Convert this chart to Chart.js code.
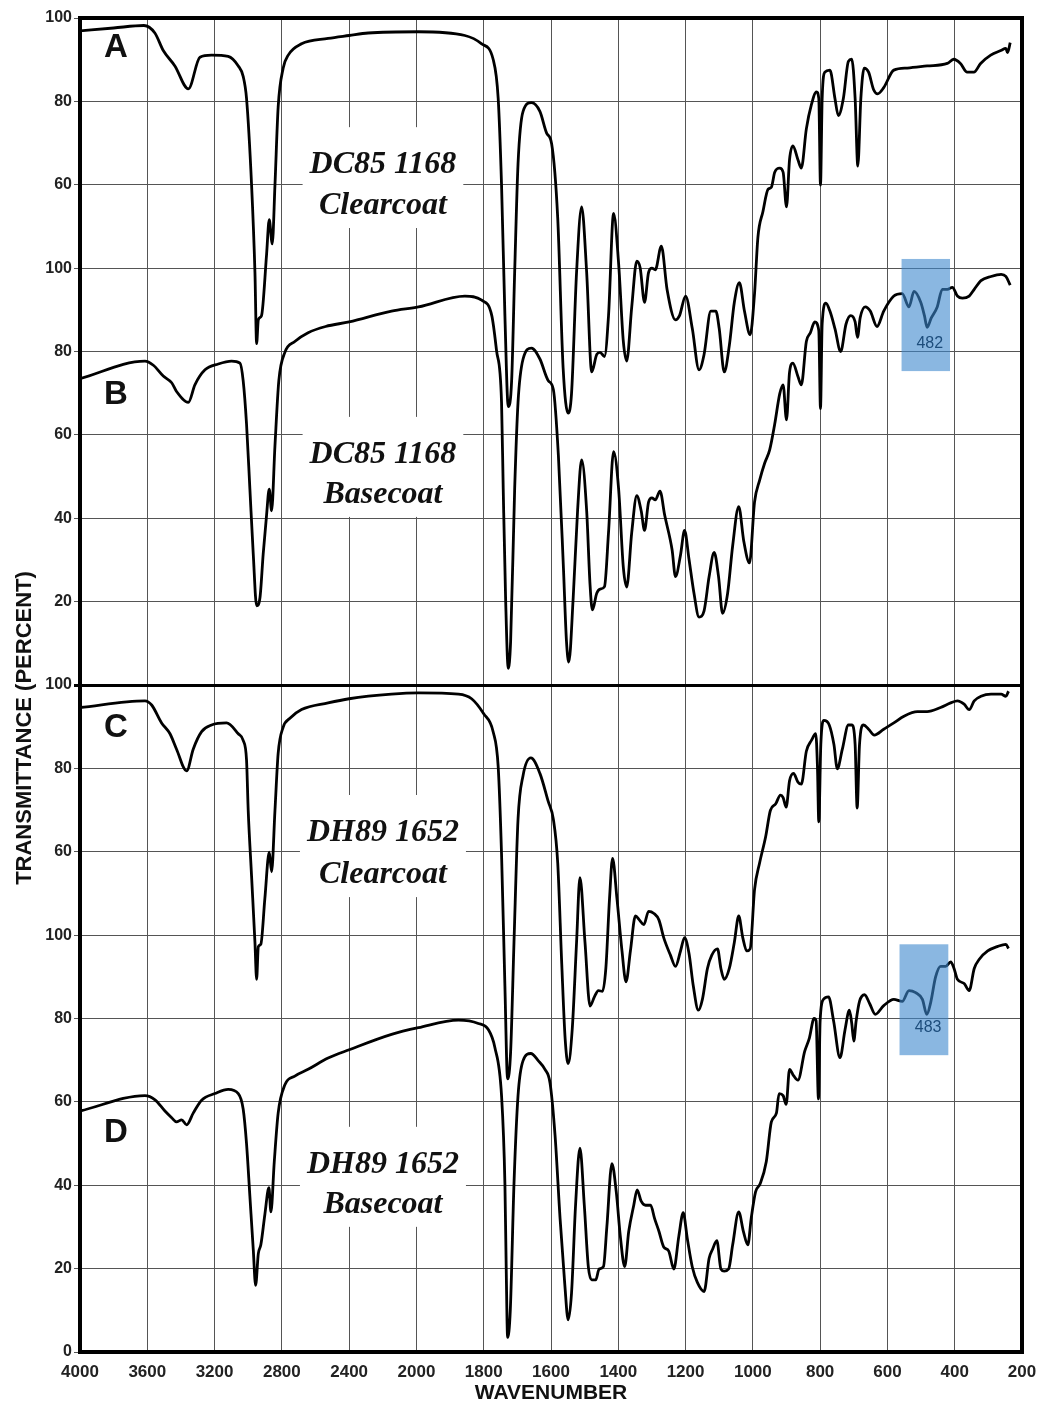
<!DOCTYPE html>
<html>
<head>
<meta charset="utf-8">
<script src="https://cdn.jsdelivr.net/npm/chart.js@4.4.1/dist/chart.umd.min.js"></script>
<style>
  html, body { margin: 0; padding: 0; background: #fff; }
  canvas { display: block; }
</style>
</head>
<body>
<canvas id="spectra" width="1039" height="1404"></canvas>
<script>
// IR spectra of four paint layers, [wavenumber, % transmittance]
const specA = [
  [4000, 96.9], [3800, 97.6], [3620, 98.2], [3555, 96.4], [3505, 92.2], [3436, 88.5], [3356, 83.0], [3287, 90.6], [3218, 91.1], [3119, 90.8],
  [3059, 88.5], [3030, 86.0], [3010, 80.7], [2980, 59.9], [2960, 39.0], [2950, 21.9], [2940, 27.6], [2921, 28.6], [2891, 43.2], [2875, 51.6],
  [2857, 45.8], [2841, 59.9], [2822, 78.6], [2792, 88.0], [2762, 91.1], [2683, 93.8], [2525, 95.1], [2400, 95.8], [2287, 96.4], [1994, 96.7],
  [1856, 95.8], [1806, 93.8], [1772, 90.1], [1757, 80.7], [1747, 59.9], [1737, 28.6], [1727, 6.8], [1717, 13.0], [1708, 39.0], [1698, 65.0],
  [1683, 77.6], [1658, 79.7], [1633, 77.6], [1613, 72.4], [1598, 69.8], [1580, 52.0], [1564, 16.1], [1549, 5.2], [1539, 9.9], [1524, 39.0],
  [1509, 54.7], [1494, 39.0], [1479, 15.1], [1464, 19.3], [1454, 19.8], [1441, 18.8], [1429, 28.6], [1414, 53.1], [1399, 41.1], [1385, 22.4],
  [1375, 17.7], [1360, 30.7], [1345, 41.7], [1335, 40.1], [1322, 31.8], [1310, 39.0], [1300, 40.0], [1290, 39.6], [1272, 45.3], [1255, 34.9],
  [1230, 27.6], [1218, 28.6], [1200, 33.3], [1180, 25.5], [1160, 15.6], [1145, 19.3], [1125, 29.7], [1110, 29.7], [1100, 25.5], [1085, 15.1],
  [1070, 21.4], [1055, 31.8], [1040, 36.5], [1025, 29.7], [1008, 24.0], [995, 33.9], [985, 47.4], [970, 53.6], [955, 58.9], [945, 59.4],
  [935, 63.0], [920, 64.0], [910, 63.0], [900, 54.7], [891, 66.0], [881, 69.3], [866, 66.0], [856, 64.0], [841, 73.4], [826, 79.2],
  [811, 82.3], [804, 80.7], [799, 59.9], [794, 80.7], [786, 87.0], [771, 87.5], [756, 80.7], [746, 76.6], [731, 80.7], [716, 89.6],
  [706, 90.1], [696, 80.7], [688, 64.5], [679, 80.7], [669, 88.0], [656, 87.0], [641, 82.8], [629, 81.8], [611, 83.3], [581, 87.5],
  [541, 88.0], [482, 88.5], [422, 89.1], [403, 90.1], [383, 89.1], [363, 87.0], [343, 87.0], [323, 89.1], [293, 91.1], [263, 92.2],
  [248, 92.7], [243, 91.7], [235, 94.1]
];

const specB = [
  [4000, 73.5], [3614, 77.7], [3564, 76.7], [3505, 74.1], [3455, 72.5], [3426, 70.4], [3356, 67.8], [3317, 72.0], [3257, 75.6], [3178, 77.0],
  [3099, 77.7], [3049, 77.2], [3030, 73.0], [3010, 62.6], [2990, 47.0], [2970, 31.4], [2950, 19.0], [2930, 21.0], [2911, 31.4], [2891, 40.7],
  [2875, 47.0], [2861, 41.8], [2841, 57.4], [2818, 73.0], [2782, 79.8], [2723, 82.4], [2644, 84.5], [2540, 86.0], [2400, 87.1], [2148, 89.7],
  [1994, 90.7], [1856, 93.3], [1806, 92.3], [1776, 88.6], [1762, 80.3], [1747, 67.8], [1742, 47.0], [1735, 21.0], [1727, 4.0], [1720, 10.5],
  [1708, 47.0], [1698, 67.8], [1683, 78.2], [1658, 80.8], [1633, 78.2], [1608, 73.0], [1593, 70.9], [1578, 55.0], [1563, 28.0], [1554, 10.5],
  [1547, 5.5], [1534, 21.0], [1521, 41.8], [1509, 54.0], [1494, 41.8], [1484, 24.1], [1477, 18.0], [1464, 22.0], [1454, 23.0], [1441, 23.6],
  [1429, 36.6], [1414, 56.0], [1399, 47.0], [1385, 28.2], [1375, 23.5], [1360, 36.6], [1345, 45.4], [1332, 41.8], [1322, 37.1], [1310, 43.9],
  [1300, 44.9], [1290, 44.4], [1276, 46.5], [1262, 40.7], [1240, 32.4], [1230, 26.0], [1215, 31.2], [1203, 37.1], [1190, 30.3], [1175, 22.0],
  [1160, 16.3], [1145, 17.8], [1130, 26.0], [1115, 31.8], [1102, 26.0], [1090, 17.2], [1075, 22.0], [1060, 33.4], [1042, 42.8], [1027, 34.5],
  [1010, 29.3], [995, 43.9], [980, 49.1], [965, 53.2], [950, 56.4], [935, 62.6], [920, 69.9], [910, 72.0], [900, 63.6], [891, 75.0],
  [881, 77.2], [866, 74.0], [856, 72.0], [841, 82.4], [829, 84.5], [816, 87.1], [804, 85.0], [799, 66.3], [794, 86.6], [783, 91.6],
  [771, 89.7], [756, 85.5], [739, 80.0], [723, 86.6], [709, 88.6], [696, 87.1], [689, 83.4], [681, 88.1], [666, 90.7], [651, 89.7],
  [631, 86.0], [611, 89.7], [581, 93.3], [556, 93.9], [536, 90.7], [521, 94.4], [501, 91.8], [490, 88.6], [482, 85.8], [470, 88.0],
  [452, 90.7], [437, 94.9], [422, 94.9], [407, 95.4], [392, 93.3], [377, 92.8], [357, 93.3], [342, 94.9], [322, 97.0], [292, 98.0],
  [262, 98.5], [248, 98.0], [235, 95.9]
];

const specC = [
  [4000, 94.6], [3614, 96.2], [3574, 95.2], [3515, 90.9], [3465, 88.3], [3426, 84.6], [3366, 79.4], [3327, 84.6], [3277, 88.8], [3218, 90.4],
  [3129, 90.9], [3059, 88.3], [3030, 86.7], [3010, 82.0], [3000, 69.9], [2980, 54.1], [2960, 38.3], [2950, 29.4], [2940, 37.2], [2925, 37.8],
  [2901, 48.8], [2875, 59.9], [2861, 55.2], [2841, 69.9], [2822, 83.6], [2792, 89.9], [2752, 92.0], [2683, 94.1], [2525, 95.7], [2400, 96.7],
  [2148, 97.8], [1994, 98.1], [1875, 97.8], [1836, 96.7], [1800, 93.1], [1772, 88.8], [1757, 80.4], [1747, 59.4], [1737, 27.8], [1729, 5.5],
  [1720, 12.0], [1710, 38.3], [1698, 67.8], [1683, 78.3], [1660, 82.5], [1633, 78.8], [1608, 72.0], [1593, 67.8], [1580, 57.3], [1568, 33.0],
  [1558, 15.2], [1549, 9.2], [1537, 17.3], [1524, 38.3], [1514, 53.8], [1499, 38.3], [1484, 23.0], [1471, 25.2], [1459, 26.7], [1447, 26.5],
  [1437, 32.0], [1426, 48.8], [1417, 58.4], [1404, 48.8], [1389, 36.2], [1377, 28.8], [1364, 36.2], [1349, 44.6], [1337, 43.6], [1324, 42.5],
  [1310, 45.7], [1294, 45.2], [1279, 43.6], [1265, 39.4], [1245, 35.2], [1230, 32.5], [1215, 36.2], [1203, 39.4], [1190, 35.7], [1177, 27.8],
  [1162, 22.0], [1150, 24.6], [1135, 32.0], [1122, 35.2], [1105, 36.7], [1095, 32.0], [1085, 29.4], [1070, 32.0], [1055, 38.3], [1042, 44.6],
  [1030, 39.4], [1018, 36.2], [1008, 36.7], [995, 50.9], [980, 57.3], [962, 63.6], [948, 69.9], [932, 71.5], [918, 73.6], [910, 73.0],
  [901, 70.7], [891, 77.0], [879, 78.8], [866, 76.7], [856, 76.2], [841, 84.1], [826, 86.7], [813, 88.3], [808, 80.4], [804, 67.2],
  [798, 85.7], [789, 91.5], [773, 90.4], [759, 85.7], [749, 79.9], [734, 84.6], [716, 90.4], [706, 90.4], [696, 85.7], [690, 70.5],
  [683, 85.7], [671, 90.4], [656, 89.4], [639, 88.0], [611, 89.4], [581, 90.9], [551, 92.5], [511, 93.6], [482, 93.6], [442, 94.6],
  [412, 95.7], [392, 96.2], [372, 95.4], [357, 94.1], [342, 96.2], [322, 97.3], [292, 97.8], [262, 97.8], [248, 97.3], [240, 98.5]
];

const specD = [
  [4000, 57.8], [3614, 61.5], [3554, 60.5], [3495, 57.8], [3455, 56.2], [3426, 55.2], [3396, 55.7], [3366, 54.5], [3327, 57.3], [3277, 60.4],
  [3198, 62.0], [3119, 63.0], [3059, 62.0], [3030, 58.3], [3010, 50.0], [2990, 37.3], [2970, 24.6], [2956, 16.0], [2940, 23.6], [2925, 25.7],
  [2901, 33.0], [2877, 39.4], [2865, 33.6], [2845, 45.7], [2822, 57.3], [2782, 64.1], [2723, 66.2], [2644, 67.8], [2525, 70.5], [2400, 72.5],
  [2148, 76.2], [1994, 77.8], [1875, 79.6], [1816, 78.8], [1786, 77.3], [1767, 73.1], [1747, 61.5], [1737, 40.4], [1733, 19.4], [1729, 3.5],
  [1721, 10.0], [1710, 40.4], [1698, 61.5], [1683, 69.9], [1660, 71.6], [1638, 69.9], [1618, 67.8], [1603, 64.6], [1588, 52.0], [1573, 32.0],
  [1559, 16.2], [1549, 7.7], [1539, 14.1], [1527, 35.2], [1514, 48.9], [1501, 35.2], [1489, 20.4], [1479, 17.3], [1467, 17.3], [1457, 19.9],
  [1444, 20.5], [1434, 30.0], [1419, 45.2], [1406, 38.4], [1394, 27.8], [1381, 20.5], [1369, 28.9], [1354, 35.2], [1344, 38.9], [1332, 36.2],
  [1319, 35.2], [1304, 35.2], [1292, 32.0], [1279, 28.9], [1265, 25.2], [1250, 24.2], [1235, 19.9], [1220, 27.8], [1207, 33.4], [1195, 27.3],
  [1180, 20.4], [1165, 16.7], [1145, 14.5], [1130, 22.5], [1120, 24.6], [1107, 26.7], [1095, 19.9], [1085, 19.4], [1072, 19.9], [1060, 25.7],
  [1042, 33.6], [1028, 28.9], [1015, 25.7], [1005, 32.0], [992, 38.4], [978, 40.4], [960, 45.7], [945, 55.2], [930, 57.3], [922, 62.0],
  [910, 61.5], [901, 59.4], [891, 67.8], [879, 66.3], [866, 65.2], [846, 72.1], [832, 75.3], [818, 80.0], [812, 79.5], [805, 60.7],
  [800, 79.5], [790, 84.6], [775, 85.2], [760, 79.4], [741, 70.6], [726, 77.3], [713, 82.0], [706, 78.8], [700, 74.6], [693, 79.4],
  [683, 84.1], [668, 85.7], [653, 83.6], [636, 81.0], [611, 83.1], [581, 84.6], [556, 84.1], [536, 86.7], [516, 86.2], [496, 84.6],
  [483, 81.0], [471, 84.0], [457, 89.9], [442, 92.5], [427, 92.5], [412, 93.6], [402, 92.0], [392, 89.4], [372, 88.4], [357, 86.7],
  [342, 92.0], [327, 94.2], [302, 96.2], [272, 97.3], [248, 97.8], [240, 96.8]
];

const xTickLabels = [4000, 3600, 3200, 2800, 2400, 2000, 1800, 1600, 1400, 1200, 1000, 800, 600, 400, 200];

// each trace is lifted so that four 0-100 % traces share one frame
const OFFSET = { A: 220, B: 160, C: 60, D: 0 };

// sample cards: letter pos (wn, %), name lines, name pos (wn, % line 1, % line 2)
const samples = [
  { key: 'A', letter: [3786, 92.8], lines: ['DC85 1168', 'Clearcoat'], wn: 2199, rows: [64.7, 54.9] },
  { key: 'B', letter: [3786, 69.6], lines: ['DC85 1168', 'Basecoat'], wn: 2199, rows: [55.2, 45.6] },
  { key: 'C', letter: [3786, 89.7], lines: ['DH89 1652', 'Clearcoat'], wn: 2199, rows: [64.5, 54.4] },
  { key: 'D', letter: [3786, 52.5], lines: ['DH89 1652', 'Basecoat'], wn: 2199, rows: [44.9, 35.3] }
];

// highlighted peaks: wavenumber range, % range, label position
const peakMarks = [
  { key: 'B', text: '482', wn: [558, 414], pct: [75.3, 102.2], at: [474, 81.9] },
  { key: 'D', text: '483', wn: [564, 419], pct: [71.2, 97.8], at: [479, 77.8] }
];

// the wavenumber axis is compressed 2:1 above 2000 cm-1
function wnToPos(wn) {
  return wn >= 2000 ? (4000 - wn) / 400 : 5 + (2000 - wn) / 200;
}

function yLabel(v) {
  if (v >= 280) return v - 220;
  if (v > 160) return v - 160;
  if (v === 160) return 100;
  if (v > 100) return v - 60;
  return v;
}

function trace(key, spec) {
  return {
    label: key,
    data: spec.map(([wn, t]) => ({ x: wnToPos(wn), y: t + OFFSET[key] })),
    borderColor: '#000',
    borderWidth: 2.8,
    pointRadius: 0,
    cubicInterpolationMode: 'monotone',
    fill: false
  };
}

const annotate = {
  id: 'annotate',
  beforeDatasetsDraw(chart) {
    const { ctx, scales: { x, y } } = chart;
    ctx.save();
    ctx.textAlign = 'center';
    ctx.textBaseline = 'middle';
    for (const s of samples) {
      const off = OFFSET[s.key];
      // sample name on a white card
      ctx.font = 'italic bold 32px "Liberation Serif", "Times New Roman", serif';
      const cx = x.getPixelForValue(wnToPos(s.wn));
      const y1 = y.getPixelForValue(s.rows[0] + off);
      const y2 = y.getPixelForValue(s.rows[1] + off);
      const w = Math.max(...s.lines.map(l => ctx.measureText(l).width)) + 14;
      ctx.fillStyle = '#fff';
      ctx.fillRect(cx - w / 2, y1 - 38, w, y2 - y1 + 60);
      ctx.fillStyle = '#111';
      ctx.fillText(s.lines[0], cx, y1);
      ctx.fillText(s.lines[1], cx, y2);
      // trace letter
      ctx.font = 'bold 33px "Liberation Sans", Arial, sans-serif';
      ctx.fillText(s.key, x.getPixelForValue(wnToPos(s.letter[0])), y.getPixelForValue(s.letter[1] + off));
    }
    ctx.restore();
  },
  afterDatasetsDraw(chart) {
    const { ctx, scales: { x, y } } = chart;
    ctx.save();
    for (const m of peakMarks) {
      const off = OFFSET[m.key];
      const x0 = x.getPixelForValue(wnToPos(m.wn[0]));
      const x1 = x.getPixelForValue(wnToPos(m.wn[1]));
      const y0 = y.getPixelForValue(m.pct[1] + off);
      const y1 = y.getPixelForValue(m.pct[0] + off);
      ctx.fillStyle = 'rgba(60, 135, 205, 0.6)';
      ctx.fillRect(x0, y0, x1 - x0, y1 - y0);
      ctx.fillStyle = '#1d4d7c';
      ctx.font = '16px "Liberation Sans", Arial, sans-serif';
      ctx.textAlign = 'center';
      ctx.textBaseline = 'middle';
      ctx.fillText(m.text, x.getPixelForValue(wnToPos(m.at[0])), y.getPixelForValue(m.at[1] + off));
    }
    ctx.restore();
  },
  afterDraw(chart) {
    const { ctx, chartArea: a } = chart;
    ctx.save();
    ctx.strokeStyle = '#000';
    ctx.lineWidth = 4;
    ctx.strokeRect(a.left, a.top, a.right - a.left, a.bottom - a.top);
    ctx.fillStyle = '#111';
    ctx.textAlign = 'center';
    ctx.textBaseline = 'middle';
    ctx.font = 'bold 21px "Liberation Sans", Arial, sans-serif';
    ctx.fillText('WAVENUMBER', (a.left + a.right) / 2, 1393);
    ctx.translate(25, 728);
    ctx.rotate(-Math.PI / 2);
    ctx.font = 'bold 22px "Liberation Sans", Arial, sans-serif';
    ctx.fillText('TRANSMITTANCE (PERCENT)', 0, 0);
    ctx.restore();
  }
};

const tickFont = { family: '"Liberation Sans", Arial, sans-serif', size: 17, weight: 'bold' };

new Chart(document.getElementById('spectra'), {
  type: 'line',
  data: {
    datasets: [trace('A', specA), trace('B', specB), trace('C', specC), trace('D', specD)]
  },
  options: {
    responsive: false,
    animation: false,
    layout: { padding: { top: 18, right: 17, left: 0, bottom: 0 } },
    plugins: { legend: { display: false }, tooltip: { enabled: false } },
    scales: {
      x: {
        type: 'linear',
        min: 0,
        max: 14,
        afterFit: s => { s.height = 52; },
        border: { display: false },
        // invisible tick marks keep the labels clear of the frame
        grid: { color: '#555', lineWidth: 1, drawTicks: true, tickLength: 9, tickColor: 'rgba(0,0,0,0)' },
        ticks: {
          stepSize: 1,
          autoSkip: false,
          maxRotation: 0,
          padding: 1,
          color: '#222',
          font: tickFont,
          callback: v => xTickLabels[v]
        }
      },
      y: {
        type: 'linear',
        min: 0,
        max: 320,
        afterFit: s => { s.width = 80; },
        border: { display: false },
        grid: {
          color: c => c.tick && c.tick.value === 160 ? '#000' : '#555',
          lineWidth: c => c.tick && c.tick.value === 160 ? 3 : 1,
          tickLength: 6
        },
        ticks: {
          stepSize: 20,
          autoSkip: false,
          padding: 2,
          color: '#222',
          font: { ...tickFont, size: 16 },
          callback: v => yLabel(v)
        }
      }
    }
  },
  plugins: [annotate]
});
</script>
</body>
</html>
